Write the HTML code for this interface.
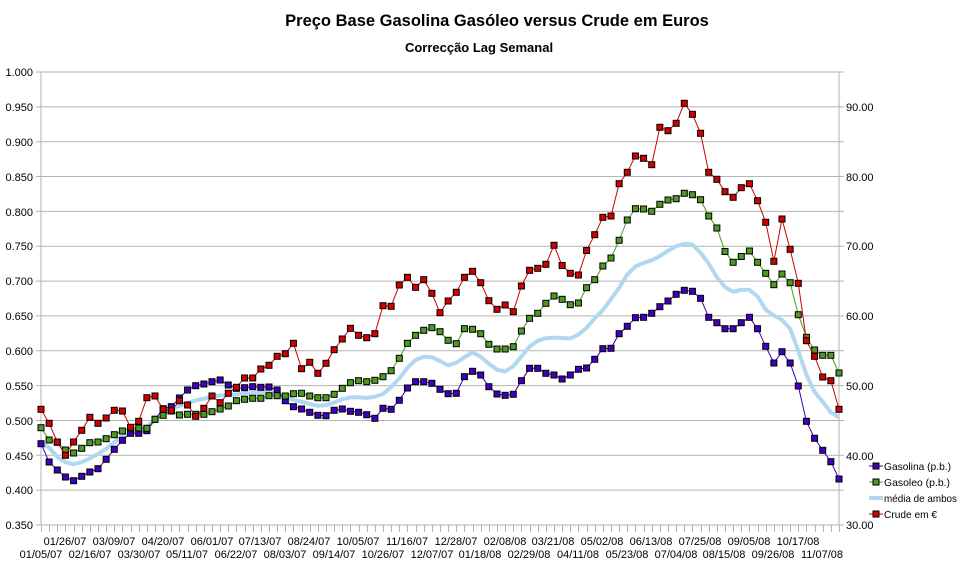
<!DOCTYPE html>
<html><head><meta charset="utf-8"><style>
html,body{margin:0;padding:0;background:#fff;}
svg{display:block;font-family:"Liberation Sans",Arial,sans-serif;}
</style></head><body>
<svg id="c" width="961" height="573" xmlns="http://www.w3.org/2000/svg">
<text x="497" y="26" font-size="16.5" font-weight="bold" text-anchor="middle">Preço Base Gasolina Gasóleo versus Crude em Euros</text>
<text x="479" y="52" font-size="13" font-weight="bold" text-anchor="middle">Correcção Lag Semanal</text>
<g id="grid"></g>
<g font-size="11" text-anchor="end" fill="#000">
<text x="33" y="76">1.000</text><text x="33" y="111">0.950</text><text x="33" y="146">0.900</text><text x="33" y="181">0.850</text><text x="33" y="216">0.800</text><text x="33" y="250">0.750</text><text x="33" y="285">0.700</text><text x="33" y="320">0.650</text><text x="33" y="355">0.600</text><text x="33" y="390">0.550</text><text x="33" y="425">0.500</text><text x="33" y="460">0.450</text><text x="33" y="494">0.400</text><text x="33" y="529">0.350</text>
</g>
<g font-size="11" fill="#000">
<text x="846" y="111">90.00</text><text x="846" y="181">80.00</text><text x="846" y="250">70.00</text><text x="846" y="320">60.00</text><text x="846" y="390">50.00</text><text x="846" y="460">40.00</text><text x="846" y="529">30.00</text>
</g>
<g font-size="11" text-anchor="middle" fill="#000">
<text x="65" y="545">01/26/07</text><text x="114" y="545">03/09/07</text><text x="163" y="545">04/20/07</text><text x="212" y="545">06/01/07</text><text x="260" y="545">07/13/07</text><text x="309" y="545">08/24/07</text><text x="358" y="545">10/05/07</text><text x="407" y="545">11/16/07</text><text x="456" y="545">12/28/07</text><text x="505" y="545">02/08/08</text><text x="553" y="545">03/21/08</text><text x="602" y="545">05/02/08</text><text x="651" y="545">06/13/08</text><text x="700" y="545">07/25/08</text><text x="749" y="545">09/05/08</text><text x="798" y="545">10/17/08</text>
<text x="41" y="558">01/05/07</text><text x="90" y="558">02/16/07</text><text x="139" y="558">03/30/07</text><text x="187" y="558">05/11/07</text><text x="236" y="558">06/22/07</text><text x="285" y="558">08/03/07</text><text x="334" y="558">09/14/07</text><text x="383" y="558">10/26/07</text><text x="432" y="558">12/07/07</text><text x="480" y="558">01/18/08</text><text x="529" y="558">02/29/08</text><text x="578" y="558">04/11/08</text><text x="627" y="558">05/23/08</text><text x="676" y="558">07/04/08</text><text x="724" y="558">08/15/08</text><text x="773" y="558">09/26/08</text><text x="822" y="558">11/07/08</text>
</g>
<g id="series"></g>
<g font-size="10.5" fill="#000">
<line x1="869" y1="466" x2="883" y2="466" stroke="#3a00b0"/><rect x="873" y="463" width="6" height="6" fill="#4000c0" stroke="#000"/><text x="884" y="470" textLength="67" lengthAdjust="spacingAndGlyphs">Gasolina (p.b.)</text>
<line x1="869" y1="482" x2="883" y2="482" stroke="#4a9a1a"/><rect x="873" y="479" width="6" height="6" fill="#4c9a1f" stroke="#000"/><text x="884" y="486" textLength="66" lengthAdjust="spacingAndGlyphs">Gasoleo (p.b.)</text>
<line x1="869" y1="498" x2="883" y2="498" stroke="#b0d8f0" stroke-width="4"/><text x="884" y="502" textLength="73" lengthAdjust="spacingAndGlyphs">média de ambos</text>
<line x1="869" y1="514" x2="883" y2="514" stroke="#cc0000"/><rect x="873" y="511" width="6" height="6" fill="#d40000" stroke="#000"/><text x="884" y="518" textLength="53" lengthAdjust="spacingAndGlyphs">Crude em €</text>
</g>
</svg>
<script>
var P=[443.7,462,470,477,480.7,476.3,472,468.7,459.3,449.3,440.3,433.3,433.3,430.7,419.3,408.7,406.7,398,390,385.7,384,381.7,380,385,388.3,387.7,386.7,387.3,387,390,400.7,406.7,409,412.3,415.3,415.7,410.3,409,411.3,412.3,414.7,418.3,408.3,409.3,400.3,388,381.7,381.7,383.3,389.3,393.7,393.3,376.7,371.3,375,386.7,394,395.3,394.3,380.7,368.3,368.3,373.3,375,379,375,369.3,368,359.3,348.7,348.3,333.7,326.3,317.7,317.3,313.3,306.7,301,294.3,290.3,291.3,298.3,317.3,322.7,328.7,328.7,322.7,317.3,328.7,346.3,363,351.7,363,386,421.3,438.3,450.3,461.7,479];
var G=[427.7,440,442.3,450,453,448.3,442.7,442,438.7,434.7,431,428.7,428,428.3,419.3,415.3,411,415,414.3,414.3,414.3,411.7,409,406,400.7,399.3,398.3,398.3,395.7,395.7,396,393.7,393.3,396,397.7,397.7,394.3,388.3,382.7,380.7,381.7,380.3,376.7,370.7,358.3,343.3,335.3,330.3,327.7,331.7,340.3,343.7,328.7,329.3,333.7,344.3,349,349,346.7,331,318.3,313.3,303.3,296,299.3,304.7,303,287.7,279.7,266,258,240.3,220,208.7,209,211.3,204.3,200,198.7,193.3,194.7,199.7,216,228,251.5,262.3,256.5,251,262.3,273.3,284.7,274,282.7,314.7,337.3,350,355.3,355.3,373];
var R=[409.3,423.3,442,455.3,442,430.3,417.3,423.3,418,410.3,411,427.3,421.3,397.7,396,409.3,410.7,400.7,405,416.3,408.3,396,402.7,393.3,387.3,378,378,369,365.3,356.3,353.7,343.3,368.7,362.3,373.3,363.3,349.7,339,328.3,335.3,337.7,333.7,305.7,306.3,285,277.3,287.3,279.7,293.3,312.7,301,292.3,277.3,271.3,282.7,300.7,309.3,305,311.7,286,270.3,268.3,264.3,245.3,265.5,273.3,275,250.5,234.7,217.3,216,183.7,172.3,156,158.3,164.7,127.3,130.7,123.3,103.3,114.3,133.3,172.3,179.3,191.7,197.3,187.7,183.7,200.7,222.3,261.3,219,249.3,283.3,340.7,356.3,377,380.7,409.3];
var NS="http://www.w3.org/2000/svg";
function X(i){return 41+i*798/98;}
function el(n,a,p){var e=document.createElementNS(NS,n);for(var k in a)e.setAttribute(k,a[k]);p.appendChild(e);return e;}
var g=document.getElementById('grid');
for(var k=0;k<14;k++){var y=72+k*453/13;el('line',{x1:36,y1:y,x2:844,y2:y,stroke:'#b3b3b3','stroke-width':1},g);}
el('line',{x1:41,y1:72,x2:41,y2:525,stroke:'#b3b3b3'},g);
el('line',{x1:839,y1:72,x2:839,y2:525,stroke:'#b3b3b3'},g);
for(var i=0;i<99;i++){var x=Math.round(X(i))+0.5;el('line',{x1:x,y1:525,x2:x,y2:532,stroke:'#b3b3b3'},g);}
var s=document.getElementById('series');
function pts(A){return A.map(function(v,i){return X(i).toFixed(1)+','+v;}).join(' ');}
var M=[];for(var i=0;i<99;i++){var a=(P[i]+G[i])/2;M.push(a);}
var M2=M.map(function(v,i){var s=0,n=0;for(var j=-1;j<=1;j++){if(M[i+j]!==undefined){s+=M[i+j];n++;}}return s/n;});
el('polyline',{points:pts(M2),fill:'none',stroke:'#b0d8f0','stroke-width':4,'stroke-linejoin':'round'},s);
[[P,'#3a00b0','#4000c0'],[G,'#4a9a1a','#4c9a1f'],[R,'#cc0000','#d40000']].forEach(function(d){
el('polyline',{points:pts(d[0]),fill:'none',stroke:d[1],'stroke-width':1},s);
d[0].forEach(function(v,i){el('rect',{x:X(i)-3,y:v-3,width:6,height:6,fill:d[2],stroke:'#000','stroke-width':1},s);});
});
</script>
</body></html>
